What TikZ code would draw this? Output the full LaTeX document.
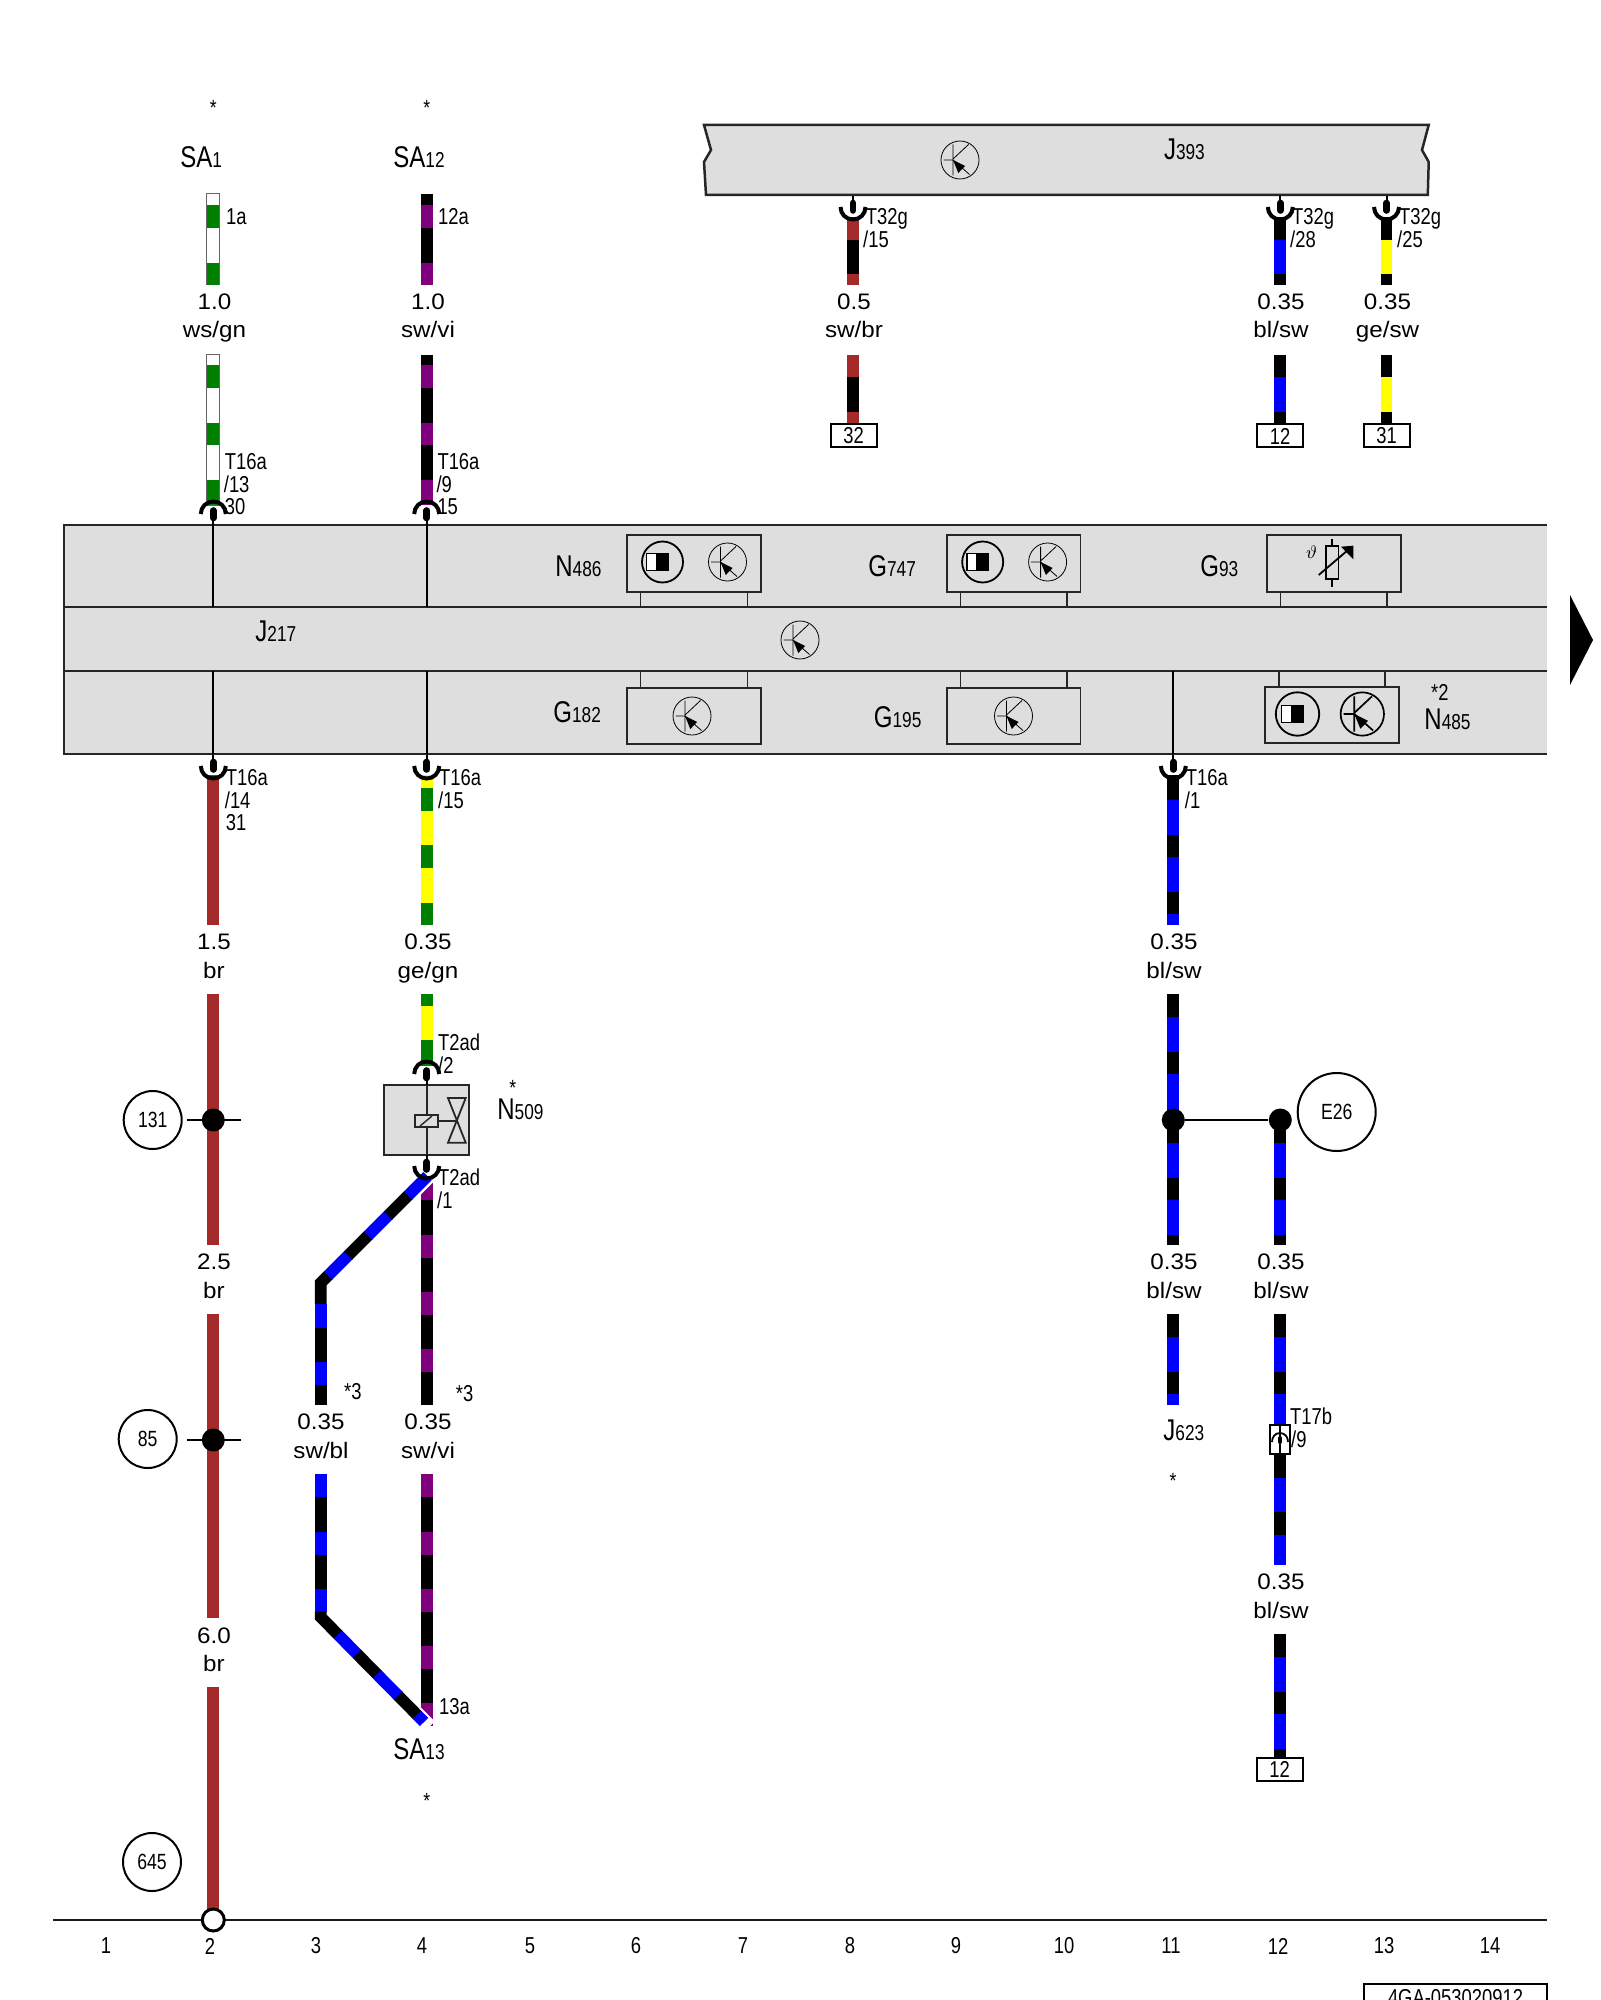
\documentclass[tikz,border=0pt]{standalone}
\usepackage{fontspec}
\setmainfont{Liberation Sans}
\newfontfamily\nar[FakeStretch=0.8]{Liberation Sans}
\newfontfamily\wid[FakeStretch=1.08]{Liberation Sans}
\definecolor{bandgray}{HTML}{DEDEDE}
\definecolor{gn}{HTML}{008000}
\definecolor{vi}{HTML}{800080}
\definecolor{bl}{HTML}{0000FF}
\definecolor{ge}{HTML}{FFFF00}
\definecolor{br}{HTML}{A52A2A}
\definecolor{sw}{HTML}{000000}
\definecolor{ws}{HTML}{FFFFFF}
\newcommand\bigsub[2]{{\nar\fontsize{15}{15}\selectfont #1}{\nar\fontsize{10.8}{11}\selectfont #2}}
\newcommand\wire[2]{\foreach \c/\a/\b in {#2}{\draw[wirestroke,draw=\c] (#1,\a)--(#1,\b);}}
\newcommand\dash[5]{\draw[wirestroke,draw=#1] (#2,#3)--(#4,#5);}
\newcommand\vlab[5]{\node[valtext] (#1a) at (#2,#3+24.5) {#4};\node[valtext] (#1b) at (#2,#3+53) {#5};}
\tikzset{
  x=0.5pt,y=-0.5pt,
  wirestroke/.style={line width=5.85pt,line cap=butt},
  boxline/.style={line width=1.25pt,draw=black!85},
  valtext/.style={font=\wid\fontsize{11.2}{12}\selectfont,anchor=base,inner sep=0pt},
  pintext/.style={font=\nar\fontsize{11.5}{12}\selectfont,anchor=base west,inner sep=0pt,xshift=-0.6pt},
  devtext/.style={anchor=base west,inner sep=0pt},
  startext/.style={font=\nar\fontsize{11}{11}\selectfont,anchor=base,inner sep=0pt},
  nrtext/.style={font=\nar\fontsize{11.5}{12}\selectfont,anchor=center,inner sep=0pt},
  refcircle/.style={circle,draw=black,line width=1pt,minimum size=29pt,inner sep=0pt,font=\nar\fontsize{11}{11}\selectfont},
  junction/.style={circle,fill=black,minimum size=11.5pt,inner sep=0pt},
  termbox/.style={draw=black,line width=1pt,fill=white,minimum width=23pt,minimum height=11.5pt,inner sep=0pt,font=\nar\fontsize{11.5}{12}\selectfont},
  pinup/.pic={
    \draw[line width=2pt,black] (-12.5,0) .. controls (-12.5,-7) and (-7,-12.5) .. (0,-12.5) .. controls (7,-12.5) and (12.5,-7) .. (12.5,0);
    \draw[line width=3.3pt,line cap=round,black] (0,-3.5) -- (0,4);
    \draw[line width=1pt,black] (0,0) -- (0,11);
  },
  pindown/.pic={
    \draw[line width=2pt,black] (-12.5,0) .. controls (-12.5,7) and (-7,12.5) .. (0,12.5) .. controls (7,12.5) and (12.5,7) .. (12.5,0);
    \draw[line width=3.3pt,line cap=round,black] (0,-4) -- (0,3.5);
    \draw[line width=1pt,black] (0,0) -- (0,-11);
  },
  pics/trans/.style={code={
    \draw[line width=#1,black] (0,0) circle[radius=19];
    \draw[line width=#1,black] (-7,-15.5)--(-7,15.5) (-16.5,0)--(-7,0) (-7,-1)--(8.5,-15.5) (-7,0)--(9.5,14.5);
    \fill[black] (-7,0)--(5,6)--(-1.7,13)--cycle;
  }},
  pics/halfsq/.style={code={
    \draw[line width=.9pt,black] (0,0) circle[radius=#1];
    \draw[line width=.8pt,black,fill=white] (-16,-8.5) rectangle (-5.5,8.5);
    \fill[black] (-5.5,-8.8) rectangle (6,8.8);
  }}
}
\begin{document}
\begin{tikzpicture}
\useasboundingbox (0,0) rectangle (1600,2000);
\fill[white] (0,0) rectangle (1600,2000);
\clip (0,0) rectangle (1600,2000);

% J393 band
\filldraw[boxline,fill=bandgray] (704,125)--(1428.7,125)--(1422,150)--(1428.7,162)--(1427.8,195)--(706,195)--(704,162)--(711,150)--cycle;
\pic at (960,160) {trans=.4pt};
\node[devtext] (j393) at (1163.6,160) {\bigsub{J}{393}};

% J217 bands
\fill[bandgray] (64,525) rectangle (1547,754);
\draw[boxline] (1547,525)--(64,525)--(64,754)--(1547,754);
\draw[boxline] (64,607)--(1547,607) (64,671)--(1547,671);

% sub boxes with legs
\foreach \l/\r in {627/761,947/1080.5,1267/1400.6}{
  \draw[line width=.9pt,black!85] (\l,535) rectangle (\r,592);
  \draw[line width=.8pt,black!85] (\l+13.5,592)--(\l+13.5,607) (\r-13.5,592)--(\r-13.5,607);
}
\foreach \l/\r in {627/761,947/1080.5}{
  \draw[line width=.9pt,black!85] (\l,688) rectangle (\r,743.7);
  \draw[line width=.8pt,black!85] (\l+13.5,671)--(\l+13.5,688) (\r-13.5,671)--(\r-13.5,688);
}
\draw[line width=.9pt,black!85] (1265.3,687) rectangle (1398.6,742.7);
\draw[line width=.8pt,black!85] (1278.7,671)--(1278.7,687) (1385,671)--(1385,687);

% symbols
\pic at (662.5,562) {halfsq=20.5};
\pic at (727.5,562) {trans=.4pt};
\pic at (982.7,562) {halfsq=20.5};
\pic at (1047.6,562) {trans=.4pt};
\pic at (800,640) {trans=.4pt};
\pic at (692,716) {trans=.4pt};
\pic at (1013.5,716) {trans=.4pt};
\pic at (1297.5,714) {halfsq=21.7};
\pic[scale=1.14] at (1362.3,714) {trans=.85pt};
% G93 symbol
\draw[line width=.7pt,black] (1332,539)--(1332,586.7);
\draw[line width=.8pt,black,fill=bandgray] (1326,545.7) rectangle (1338.3,578.7);
\draw[line width=.9pt,black] (1318.7,575)--(1350,548.3);
\fill[black] (1353.3,545.7)--(1341,546.7)--(1353.3,559.3)--cycle;
\node[inner sep=0pt,font=\fontsize{9}{9}\selectfont] (theta) at (1311.7,552.7) {$\vartheta$};

% device labels
\node[devtext] (n486) at (555,576) {\bigsub{N}{486}};
\node[devtext] (g747) at (868,576) {\bigsub{G}{747}};
\node[devtext] (g93) at (1200,576) {\bigsub{G}{93}};
\node[devtext] (j217) at (255,641) {\bigsub{J}{217}};
\node[devtext] (g182) at (553,722.7) {\bigsub{G}{182}};
\node[devtext] (g195) at (873.5,727.7) {\bigsub{G}{195}};
\node[devtext] (n485) at (1424,729) {\bigsub{N}{485}};
\node[pintext] (star2) at (1432,700) {*2};

% thin lines in J217
\coordinate (a2t) at (213.3,525); \coordinate (a2b) at (213.3,607);
\coordinate (a4t) at (426.7,525); \coordinate (a4b) at (426.7,607);
\coordinate (b2t) at (213.3,671); \coordinate (b2b) at (213.3,754);
\coordinate (b4t) at (426.7,671); \coordinate (b4b) at (426.7,754);
\coordinate (b11t) at (1173.3,671); \coordinate (b11b) at (1173.3,754);
\draw[line width=1pt,black] (a2t)--(a2b) (a4t)--(a4b) (b2t)--(b2b) (b4t)--(b4b) (b11t)--(b11b);

% right arrow
\fill[black] (1570,595)--(1593,640)--(1570,685)--cycle;

% column 2 top
\draw[draw=black!60,fill=white,line width=.5pt] (206.8,194) rectangle (219.8,285);
\draw[draw=black!60,fill=white,line width=.5pt] (206.8,355) rectangle (219.8,505);
\wire{213.3}{gn/205/228,gn/263/285,gn/365/388,gn/423/445,gn/480/505}
\wire{426.7}{sw/194/205.5,vi/205/228,sw/228/263,vi/263/285,sw/355/365.5,vi/365/388,sw/388/423,vi/423/445,sw/445/480,vi/480/505}
\pic at (213.3,514) {pinup};
\pic at (426.7,514) {pinup};
\node[startext] (s1) at (213.3,115.5) {*};
\node[startext] (s2) at (426.7,115.5) {*};
\node[devtext] (sa1) at (180,168) {\bigsub{SA}{1}};
\node[devtext] (sa12) at (393,168) {\bigsub{SA}{12}};
\node[pintext] (l1a) at (227,225) {1a};
\node[pintext] (l12a) at (439,225) {12a};
\vlab{v1}{214.5}{285}{1.0}{ws/gn}
\vlab{v2}{428}{285}{1.0}{sw/vi}
\node[pintext] (p1) at (225.7,469) {T16a};
\node[pintext] (p2) at (224.7,492) {/13};
\node[pintext] (p3) at (225.7,514) {30};
\node[pintext] (p4) at (438.3,469) {T16a};
\node[pintext] (p5) at (437.3,492) {/9};
\node[pintext] (p6) at (438.3,514) {15};

% J393 wires
\wire{853}{br/217/240.5,sw/240/274.5,br/274/285,br/355/377.5,sw/377/412.5,br/412/424}
\wire{1280.3}{sw/217/240.5,bl/240/274.5,sw/274/285,sw/355/377.5,bl/377/412.5,sw/412/424}
\wire{1386.5}{sw/217/240.5,ge/240/274.5,sw/274/285,sw/355/377.5,ge/377/412.5,sw/412/424}
\pic at (853,207) {pindown};
\pic at (1280.3,207) {pindown};
\pic at (1386.5,207) {pindown};
\node[pintext] (q1) at (866.6,225) {T32g};
\node[pintext] (q2) at (864,247.7) {/15};
\node[pintext] (q3) at (1293,225) {T32g};
\node[pintext] (q4) at (1291,247.7) {/28};
\node[pintext] (q5) at (1400,225) {T32g};
\node[pintext] (q6) at (1398,247.7) {/25};
\vlab{v3}{854}{285}{0.5}{sw/br}
\vlab{v4}{1281}{285}{0.35}{bl/sw}
\vlab{v5}{1387.5}{285}{0.35}{ge/sw}
\node[termbox] (t32) at (853.5,436) {32};
\node[termbox] (t12) at (1280,436) {12};
\node[termbox] (t31) at (1386.5,436) {31};

% below J217
\wire{213.3}{br/775/925,br/994/1245,br/1314/1618,br/1687/1912}
\wire{426.7}{ge/775/788.5,gn/788/811,ge/811/845.5,gn/845/868,ge/868/903.5,gn/903/925,gn/994/1006,ge/1005.5/1040,gn/1039.5/1066}
\wire{1173.3}{sw/775/800.5,bl/800/835.5,sw/835/857.5,bl/857/892.5,sw/892/914.5,bl/914/925,sw/994/1017.5,bl/1017/1052.5,sw/1052/1074.5,bl/1074/1120,sw/1120/1143.5,bl/1143/1178.5,sw/1178/1200.5,bl/1200/1235.5,sw/1235/1245,sw/1314/1337.5,bl/1337/1372.5,sw/1372/1394.5,bl/1394/1405}
\wire{1280.3}{sw/1120/1143.5,bl/1143/1178.5,sw/1178/1200.5,bl/1200/1235.5,sw/1235/1245,sw/1314/1337.5,bl/1337/1372.5,sw/1372/1394.5,bl/1394/1426,sw/1453/1478.5,bl/1478/1512.5,sw/1512/1535.5,bl/1535/1565,sw/1634/1657.5,bl/1657/1692.5,sw/1692/1714.5,bl/1714/1749.5,sw/1749/1760}
\pic at (213.3,766) {pindown};
\pic at (426.7,766) {pindown};
\pic at (1173.3,766) {pindown};
\node[pintext] (r1) at (226.7,785) {T16a};
\node[pintext] (r2) at (225.7,808) {/14};
\node[pintext] (r3) at (226.7,830) {31};
\node[pintext] (r4) at (440,785) {T16a};
\node[pintext] (r5) at (439,808) {/15};
\node[pintext] (r6) at (1186.7,785) {T16a};
\node[pintext] (r7) at (1185.7,808) {/1};
\vlab{v6}{214}{925}{1.5}{br}
\vlab{v7}{428}{925}{0.35}{ge/gn}
\vlab{v8}{1174}{925}{0.35}{bl/sw}
\vlab{v9}{214}{1245}{2.5}{br}
\vlab{v10}{1174}{1245}{0.35}{bl/sw}
\vlab{v11}{1281}{1245}{0.35}{bl/sw}
\vlab{v12}{321}{1405}{0.35}{sw/bl}
\vlab{v13}{428}{1405}{0.35}{sw/vi}
\vlab{v14}{214}{1618.5}{6.0}{br}
\vlab{v15}{1281}{1565}{0.35}{bl/sw}

% junctions and references
\node[junction] (j131) at (213.3,1120) {};
\node[junction] (j85) at (213.3,1440) {};
\node[junction] (j11) at (1173.3,1120) {};
\node[junction] (j12) at (1280.3,1120) {};
\draw[line width=1.35pt,black] (j11)--(j12);
\coordinate (t131a) at (187,1120); \coordinate (t131b) at (240.5,1120);
\coordinate (t85a) at (187,1440); \coordinate (t85b) at (240.5,1440);
\draw[line width=1.35pt,black] (t131a)--(t131b) (t85a)--(t85b);
\node[refcircle] (c131) at (152.7,1120) {131};
\node[refcircle] (c85) at (147.7,1439) {85};
\node[refcircle] (c645) at (152,1862) {645};
\node[refcircle,minimum size=39pt,font=\nar\fontsize{11}{12}\selectfont] (e26) at (1336.7,1112) {E26};

% N509
\draw[line width=1pt,black!85,fill=bandgray] (384,1085) rectangle (469,1155);
\draw[line width=.9pt,black!85] (426.7,1085)--(426.7,1155);
\draw[line width=.9pt,black!85,fill=bandgray] (415,1115) rectangle (437.7,1126.7);
\draw[line width=.7pt,black!85] (420,1126)--(432,1116);
\draw[line width=.9pt,black!85] (437.7,1121)--(456.7,1121);
\draw[line width=.9pt,black!85] (448,1098)--(465.7,1098)--(448,1142.7)--(465.7,1142.7)--cycle;
\pic at (426.7,1074) {pinup};
\node[devtext] (n509) at (497,1119) {\bigsub{N}{509}};
\node[startext] (s3) at (512.7,1095.5) {*};
\node[pintext] (u1) at (439,1050.7) {T2ad};
\node[pintext] (u2) at (439,1073) {/2};
\node[pintext] (u3) at (439,1185) {T2ad};
\node[pintext] (u4) at (438,1208) {/1};
\node[pintext] (u5) at (345,1399) {*3};
\node[pintext] (u6) at (456.7,1401) {*3};

% col 4 violet
\wire{426.7}{vi/1177/1200,sw/1200/1235.5,vi/1235/1258,sw/1258/1292.5,vi/1292/1315,sw/1315/1349.5,vi/1349/1372,sw/1372/1405,vi/1474/1497,sw/1497/1532.5,vi/1532/1555,sw/1555/1589.5,vi/1589/1612,sw/1612/1646.5,vi/1646/1669,sw/1669/1703.5,vi/1703/1726}
% upper diagonal
\draw[line width=8pt,white] (404,1200)--(430,1174);
\draw[wirestroke,line join=miter,miter limit=4,draw=black] (320.7,1304)--(320.7,1283)--(328.5,1275.2);
\dash{bl}{328}{1275.7}{348.5}{1255.2}
\dash{black}{348}{1255.7}{368.5}{1235.2}
\dash{bl}{368}{1235.7}{388.5}{1215.2}
\dash{black}{388}{1215.7}{408.5}{1195.2}
\dash{bl}{408}{1195.7}{427.5}{1176.2}
\pic at (426.7,1166) {pindown};
\wire{320.7}{bl/1304/1328,sw/1328/1362.5,bl/1362/1385,sw/1385/1405,bl/1474/1497,sw/1497/1532.5,bl/1532/1555,sw/1555/1589.5,bl/1589/1612}
% lower diagonal
\draw[line width=8pt,white] (405,1703)--(429,1727);
\draw[wirestroke,line join=miter,miter limit=4,draw=black] (320.7,1611.5)--(320.7,1617)--(338.5,1635.1);
\dash{bl}{338}{1634.6}{357.5}{1654.4}
\dash{black}{357}{1653.9}{377.5}{1674.7}
\dash{bl}{377}{1674.2}{398.5}{1696}
\dash{black}{398}{1695.5}{417.5}{1715.3}
\dash{bl}{417}{1714.8}{424}{1722}
\node[pintext] (l13a) at (440,1714) {13a};
\node[devtext] (sa13) at (393,1759) {\bigsub{SA}{13}};
\node[startext] (s4) at (426.7,1808) {*};

% T17b
\node[draw=black,line width=1pt,fill=white,minimum width=10pt,minimum height=14.5pt,inner sep=0pt] (t17b) at (1280,1439.5) {};
\draw[line width=.9pt,black] (1272,1442) .. controls (1272,1437) and (1275,1433) .. (1280,1433) .. controls (1285,1433) and (1288,1437) .. (1288,1442);
\draw[line width=2pt,line cap=round,black] (1280,1438)--(1280,1442);
\draw[line width=.8pt,black] (t17b.north)--(t17b.south);
\node[pintext] (t1) at (1291,1424) {T17b};
\node[pintext] (t2) at (1292,1447) {/9};
\node[devtext] (j623) at (1163,1440) {\bigsub{J}{623}};
\node[startext] (s5) at (1173,1488) {*};
\node[termbox] (t12b) at (1279.7,1769) {12};

% ground
\coordinate (g1) at (53,1920); \coordinate (g2) at (1547,1920);
\draw[line width=1.4pt,black!90] (g1)--(g2);
\node[circle,draw=black,line width=1.5pt,fill=white,minimum size=11pt,inner sep=0pt] (gnd) at (213.3,1920) {};
\foreach \n/\x in {1/106,2/210,3/316,4/422,5/530,6/636,7/743,8/850,9/956,10/1064,11/1171,12/1278,13/1384,14/1490}{
  \node[nrtext] (nr\n) at (\x,1946) {\n};
}
\node[draw=black,line width=1pt,minimum width=91.5pt,minimum height=16pt,inner sep=0pt,font=\nar\fontsize{11.5}{12}\selectfont] (tag) at (1455.5,2000) {\raisebox{2.5pt}{4GA-053020912}};
\end{tikzpicture}
\end{document}
